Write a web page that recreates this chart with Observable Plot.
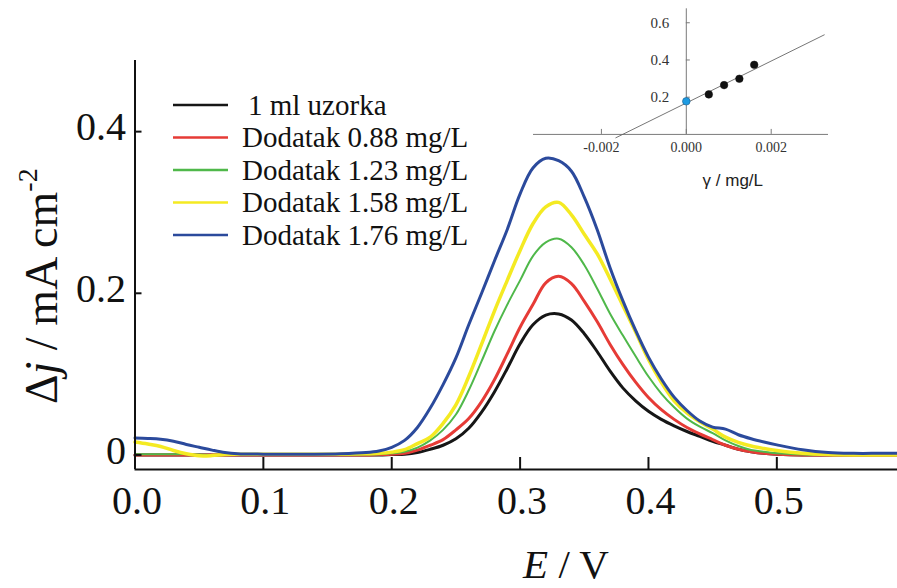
<!DOCTYPE html>
<html>
<head>
<meta charset="utf-8">
<script src="https://cdn.jsdelivr.net/npm/d3@7"></script>
<script src="https://cdn.jsdelivr.net/npm/@observablehq/plot@0.6"></script>
<style>
  html, body { margin: 0; padding: 0; background: #fff; }
  #wrap { position: relative; width: 897px; height: 588px; overflow: hidden; background: #fff; }
  #main, #inset { position: absolute; top: 0; }
  #main { left: 0; }
  #inset { left: 520px; }
</style>
</head>
<body>
<div id="wrap"><div id="main"></div><div id="inset"></div></div>
<script>
// ---------- main chart data (E / V vs Δj / mA cm^-2) ----------
const E = [0, 0.01, 0.02, 0.03, 0.04, 0.05, 0.06, 0.07, 0.08, 0.10, 0.12, 0.14, 0.16, 0.18,
  0.19, 0.20, 0.21, 0.22, 0.23, 0.24, 0.25, 0.26, 0.27, 0.28, 0.29, 0.30, 0.31, 0.32, 0.33, 0.34,
  0.35, 0.36, 0.37, 0.38, 0.39, 0.40, 0.41, 0.42, 0.43, 0.44, 0.45, 0.46, 0.47, 0.48, 0.49, 0.50,
  0.52, 0.54, 0.56, 0.58, 0.594];

const sample = [0, 0, 0, 0, 0, 0, 0, 0, 0, 0, 0, 0, 0, 0,
  0, 0.0005, 0.001, 0.003, 0.007, 0.012, 0.02, 0.033, 0.053, 0.078, 0.107, 0.1375, 0.161, 0.173, 0.1745, 0.167,
  0.15, 0.128, 0.104, 0.083, 0.067, 0.054, 0.044, 0.036, 0.029, 0.023, 0.017, 0.012, 0.007, 0.004, 0.002, 0.001,
  0, 0, 0, 0, 0];

const add088 = [0, 0, 0, 0, 0, 0, 0, 0, 0, 0, 0, 0, 0, 0,
  0.0005, 0.001, 0.002, 0.006, 0.012, 0.019, 0.031, 0.045, 0.066, 0.093, 0.125, 0.158, 0.186, 0.213, 0.221, 0.212,
  0.19, 0.165, 0.137, 0.112, 0.09, 0.071, 0.056, 0.044, 0.034, 0.026, 0.019, 0.012, 0.007, 0.004, 0.002, 0.001,
  0, 0, 0, 0, 0];

const add123 = [0.001, 0.001, 0.001, 0.001, 0.001, 0.0005, 0, 0, 0, 0, 0, 0, 0, 0.0005,
  0.001, 0.002, 0.004, 0.009, 0.018, 0.031, 0.05, 0.08, 0.116, 0.153, 0.186, 0.216, 0.246, 0.263, 0.2675, 0.257,
  0.235, 0.206, 0.175, 0.148, 0.122, 0.097, 0.076, 0.059, 0.045, 0.035, 0.027, 0.018, 0.011, 0.006, 0.004, 0.002,
  0.0005, 0, 0, 0, 0];

const add158 = [0.016, 0.0135, 0.0105, 0.0055, 0.0015, -0.001, -0.0008, 0.0005, 0.0008, 0.0008, 0.0008, 0.0008, 0.001, 0.0015,
  0.002, 0.0035, 0.0065, 0.014, 0.022, 0.039, 0.062, 0.097, 0.137, 0.178, 0.216, 0.253, 0.286, 0.307, 0.3125, 0.297,
  0.273, 0.249, 0.218, 0.185, 0.152, 0.118, 0.09, 0.067, 0.052, 0.041, 0.032, 0.022, 0.0155, 0.011, 0.008, 0.0055,
  0.002, 0.0005, 0, 0, 0];

const add176 = [0.021, 0.0205, 0.0195, 0.017, 0.013, 0.0095, 0.006, 0.003, 0.0015, 0.001, 0.001, 0.001, 0.0015, 0.003,
  0.005, 0.0095, 0.018, 0.034, 0.058, 0.087, 0.12, 0.161, 0.2, 0.24, 0.279, 0.323, 0.355, 0.367, 0.364, 0.351,
  0.319, 0.279, 0.232, 0.191, 0.154, 0.121, 0.094, 0.0715, 0.055, 0.042, 0.0345, 0.032, 0.025, 0.02, 0.016, 0.0125,
  0.0065, 0.003, 0.002, 0.002, 0.002];

const seriesNames = ["1 ml uzorka", "Dodatak 0.88 mg/L", "Dodatak 1.23 mg/L", "Dodatak 1.58 mg/L", "Dodatak 1.76 mg/L"];
const seriesValues = [sample, add088, add123, add158, add176];
const seriesColors = ["#161616", "#e63b36", "#4fb84a", "#f4ea22", "#2b4a9c"];
const seriesWidths = [3, 3, 2, 3.5, 3];

const xTicks = [0, 0.1, 0.2, 0.3, 0.4, 0.5];
const xTickLabels = ["0.0", "0.1", "0.2", "0.3", "0.4", "0.5"];
const yTicks = [0, 0.2, 0.4];
const yTickLabels = ["0", "0.2", "0.4"];
const xDomain = [0, 0.594];
const yDomain = [-0.018, 0.488];

// ---------- inset data (γ / mg/L vs Δj) ----------
const insetGamma = [0.00053, 0.00089, 0.00125, 0.0016];
const insetJ = [0.215, 0.265, 0.299, 0.374];
const insetSampleGamma = [0];
const insetSampleJ = [0.178];
const fitGamma = [-0.00166, 0.00325];
const fitJ = [-0.018, 0.535];
const insetXTicks = [-0.002, 0, 0.002];
const insetXTickLabels = ["-0.002", "0.000", "0.002"];
const insetYTicks = [0.2, 0.4, 0.6];
const insetYTickLabels = ["0.2", "0.4", "0.6"];
const insetXDomain = [-0.0036, 0.00335];
const insetYDomain = [-0.03, 0.675];

// ---------- main chart ----------
const serif = "'Liberation Serif', 'Times New Roman', serif";
const lineMarks = seriesValues.map((vals, i) =>
  Plot.line(E.map((e, k) => ({E: e, j: vals[k]})), {
    x: "E", y: "j", stroke: seriesColors[i], strokeWidth: seriesWidths[i], curve: "catmull-rom"
  })
);

const main = Plot.plot({
  width: 897, height: 588,
  marginLeft: 134.5, marginRight: 0, marginTop: 60, marginBottom: 119,
  x: {domain: xDomain},
  y: {domain: yDomain},
  style: {fontFamily: serif, background: "transparent", color: "#111", overflow: "visible"},
  marks: [
    ...lineMarks,
    Plot.ruleX([xDomain[0]], {stroke: "#111", strokeWidth: 2}),
    Plot.ruleY([yDomain[0]], {stroke: "#111", strokeWidth: 2}),
    Plot.ruleX(xTicks, {y1: yDomain[0], y2: yDomain[0], insetTop: -12, stroke: "#111", strokeWidth: 2}),
    Plot.ruleY(yTicks, {x1: xDomain[0], x2: xDomain[0], insetRight: -7, stroke: "#111", strokeWidth: 2}),
    Plot.axisX(xTicks, {tickSize: 0, tickPadding: 16, fontSize: 40, dx: 2, label: null,
      tickFormat: d => xTickLabels[xTicks.indexOf(d)]}),
    Plot.axisY(yTicks, {tickSize: 0, tickPadding: 9, fontSize: 40, dy: -4, label: null,
      tickFormat: d => yTickLabels[yTicks.indexOf(d)]})
  ]
});
document.getElementById("main").appendChild(main);

const svg = d3.select(main);
// legend
const leg = svg.append("g").attr("font-family", serif).attr("font-size", 29).attr("fill", "#111")
  .attr("text-anchor", "start");
seriesNames.forEach((name, i) => {
  const y = 105 + i * 32.5;
  leg.append("line").attr("x1", 173).attr("x2", 228).attr("y1", y).attr("y2", y)
    .attr("stroke", seriesColors[i]).attr("stroke-width", 2.6);
  leg.append("text").attr("x", i === 0 ? 248 : 242).attr("y", y).attr("dy", "0.34em")
    .attr("text-anchor", "start").text(name);
});
// y-axis title
const yt = svg.append("text").attr("font-family", serif).attr("font-size", 46).attr("fill", "#111")
  .attr("transform", "translate(57,404) rotate(-90)").attr("text-anchor", "start");
yt.append("tspan").text("Δ");
yt.append("tspan").attr("font-style", "italic").text("j");
yt.append("tspan").text(" / mA cm");
yt.append("tspan").attr("font-size", 28).attr("dy", -20).text("-2");
// x-axis title
const xt = svg.append("text").attr("font-family", serif).attr("font-size", 41).attr("fill", "#111")
  .attr("x", 566).attr("y", 578).attr("text-anchor", "middle");
xt.append("tspan").attr("font-style", "italic").text("E");
xt.append("tspan").text(" / V");

// ---------- inset ----------
const inset = Plot.plot({
  width: 330, height: 200,
  marginLeft: 13, marginRight: 22, marginTop: 8.3, marginBottom: 60.5,
  x: {domain: insetXDomain, axis: null},
  y: {domain: insetYDomain, axis: null},
  style: {fontFamily: serif, background: "transparent", color: "#333", overflow: "visible"},
  marks: [
    Plot.ruleY([0], {stroke: "#7a7a7a", strokeWidth: 1}),
    Plot.ruleX([0], {y1: 0, y2: insetYDomain[1], stroke: "#7a7a7a", strokeWidth: 1}),
    Plot.ruleX(insetXTicks, {y1: 0, y2: 0, insetTop: -5, stroke: "#7a7a7a", strokeWidth: 1}),
    Plot.ruleY(insetYTicks, {x1: 0, x2: 0, insetRight: -4, stroke: "#7a7a7a", strokeWidth: 1}),
    Plot.line(fitGamma.map((g, k) => ({g, j: fitJ[k]})), {x: "g", y: "j", stroke: "#666", strokeWidth: 0.9}),
    Plot.dot(insetGamma.map((g, k) => ({g, j: insetJ[k]})), {x: "g", y: "j", r: 3.8, fill: "#111", stroke: "#111", strokeWidth: 0.5}),
    Plot.dot(insetSampleGamma.map((g, k) => ({g, j: insetSampleJ[k]})), {x: "g", y: "j", r: 3.8, fill: "#1e9be2", stroke: "#1a5a8a", strokeWidth: 0.6}),
    Plot.text(insetXTicks, {x: d => d, y: 0, dy: 13, text: d => insetXTickLabels[insetXTicks.indexOf(d)], fontSize: 14, fill: "#333"}),
    Plot.text(insetYTicks, {x: 0, y: d => d, dx: -17, textAnchor: "end", text: d => insetYTickLabels[insetYTicks.indexOf(d)], fontSize: 15, fill: "#333"})
  ]
});
document.getElementById("inset").appendChild(inset);
const isvg = d3.select(inset);
const gx = inset.scale("x").apply(0);
isvg.append("text").attr("font-family", "'Liberation Sans', Arial, sans-serif").attr("font-size", 17)
  .attr("fill", "#222").attr("x", gx + 47).attr("y", 186).attr("text-anchor", "middle").text("γ / mg/L");
</script>
</body>
</html>
